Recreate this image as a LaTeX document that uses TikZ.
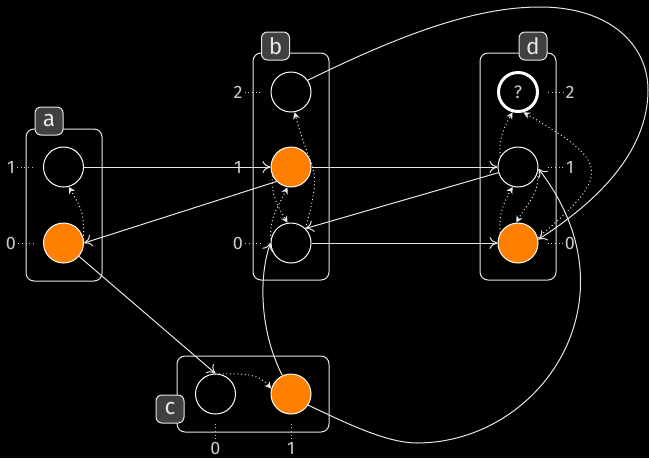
\documentclass[tikz,border=0pt]{standalone}
\usepackage{fontspec}
\setmainfont{Fira Sans}
\usetikzlibrary{arrows.meta}
\definecolor{fg}{HTML}{E6E6E6}
\definecolor{lab}{HTML}{CCCCCC}
\definecolor{tabfill}{HTML}{404040}
\definecolor{org}{HTML}{FF8000}
\begin{document}
\begin{tikzpicture}[x=0.75pt,y=-0.75pt,
  st/.style={circle,draw=white,line width=0.75pt,minimum size=30pt,inner sep=0pt},
  on/.style={st,fill=org},
  grp/.style={draw=fg,line width=0.75pt,rounded corners=6pt,inner sep=0pt},
  grpv/.style={grp,minimum width=57pt,minimum height=170.25pt},
  grph/.style={grp,minimum width=114pt,minimum height=57pt},
  tabbox/.style={draw=fg,fill=tabfill,line width=0.75pt,rounded corners=4.5pt,minimum size=21pt,inner sep=0pt,text=fg,font=\fontsize{17}{17}\selectfont},
  lbl/.style={text=lab,font=\fontsize{13.5}{14}\selectfont,inner sep=1.5pt},
  tick/.style={draw=lab,line width=0.75pt,dotted},
  conn/.style={draw=fg,line width=0.75pt,-{To[length=6pt,width=9pt]}},
  dconn/.style={draw=fg,line width=0.75pt,dotted,-{Stealth[length=5pt,width=5pt,inset=1.5pt]}},
]
\fill[black] (0,0) rectangle (649,458);
\useasboundingbox (0,0) rectangle (649,458);

% groups
\node[grp,minimum width=57pt,minimum height=114pt] (ga) at (64,205) {};
\node[grpv] (gb) at (291,166.5) {};
\node[grpv] (gd) at (518,166.5) {};
\node[grph] (gc) at (253,394) {};
\node[tabbox] (ta) at (49,121) {a};
\node[tabbox] (tb) at (275.5,46) {b};
\node[tabbox] (td) at (533,46) {d};
\node[tabbox] (tc) at (170,409) {c};

% states
\node[st] (a1) at (63.5,167) {};
\node[on] (a0) at (63.5,243) {};
\node[st] (b2) at (291,92) {};
\node[on] (b1) at (291,167) {};
\node[st] (b0) at (291,243) {};
\node[st,line width=2.25pt,minimum size=29.25pt,text=lab,font=\fontsize{13.5}{14}\selectfont] (d2) at (518,92) {?};
\node[st] (d1) at (518,167) {};
\node[on] (d0) at (518,243) {};
\node[st] (c0) at (215.5,394) {};
\node[on] (c1) at (291,394) {};

% labels
\node[lbl] (la1) at (11,167) {1};
\node[lbl] (la0) at (11,243) {0};
\node[lbl] (lb2) at (238,92) {2};
\node[lbl] (lb1) at (238,167) {1};
\node[lbl] (lb0) at (238,243) {0};
\node[lbl] (ld2) at (570,92) {2};
\node[lbl] (ld1) at (570,167) {1};
\node[lbl] (ld0) at (570,243) {0};
\node[lbl,inner sep=0.5pt] (lc0) at (215.5,448.5) {0};
\node[lbl,inner sep=0.5pt] (lc1) at (291,448.5) {1};
\draw[tick,shorten >=7.5pt] (la1) -- (a1);
\draw[tick,shorten >=7.5pt] (la0) -- (a0);
\draw[tick,shorten >=7.5pt] (lb2) -- (b2);
\draw[tick,shorten >=7.5pt] (lb1) -- (b1);
\draw[tick,shorten >=7.5pt] (lb0) -- (b0);
\draw[tick,shorten <=6.75pt] (d2) -- (ld2);
\draw[tick,shorten <=6.75pt] (d1) -- (ld1);
\draw[tick,shorten <=6.75pt] (d0) -- (ld0);
\draw[tick,shorten <=6.75pt,shorten >=1pt] (c0) -- (lc0);
\draw[tick,shorten <=6.75pt,shorten >=1pt] (c1) -- (lc1);

% solid transitions
\draw[conn] (a1) -- (b1);
\draw[conn] (b1.south west) -- (a0.east);
\draw[conn] (a0) -- (c0.north);
\draw[conn] (b1) -- (d1);
\draw[conn] (d1) -- (b0.north east);
\draw[conn] (b0) -- (d0);
\draw[conn] (c1.115) .. controls (259,330) and (259,275) .. (b0.west);
\draw[conn] (c1.-33) .. controls (340,420) and (385,443) .. (417,443)
  .. controls (540,443) and (640,300) .. (d1.-5);
\draw[conn] (b2.35) .. controls (410,30) and (480,7) .. (540,7)
  .. controls (610,7) and (648,45) .. (648,90)
  .. controls (648,150) and (600,200) .. (d0.10);

% dotted transitions
\draw[dconn] (a0.10) to[out=90,in=-60,looseness=1.3] (a1.-75);
\draw[dconn] (c0.80) to[out=0,in=130] (c1.165);
\draw[dconn] (b1.205) to[out=-95,in=120] (b0.100);
\draw[dconn] (b0.170) to[out=95,in=-115] (b1.-100);
\draw[dconn] (b0.45) to[out=75,in=-75,looseness=1.5] (b2.-80);
\draw[dconn] (d1.150) to[out=95,in=-120] (d2.-105);
\draw[dconn] (d0.150) to[out=95,in=-120] (d1.-105);
\draw[dconn] (d1.-15) to[out=-85,in=60] (d0.95);
\draw[dconn] (d0.15) to[out=40,in=-30,looseness=2] (d2.-75);
\end{tikzpicture}
\end{document}
